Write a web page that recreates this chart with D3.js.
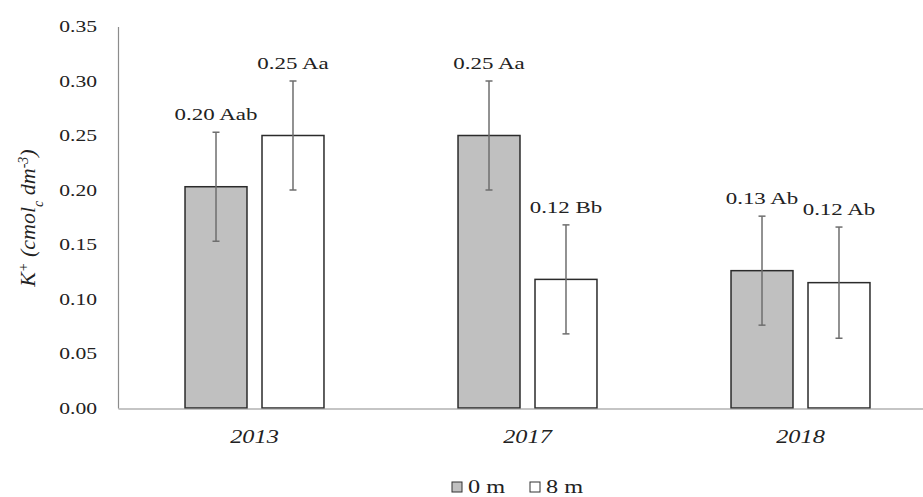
<!DOCTYPE html>
<html>
<head>
<meta charset="utf-8">
<script src="https://cdn.jsdelivr.net/npm/d3@7"></script>
<style>
  body { margin: 0; background: #fff; }
  svg text { font-family: "Liberation Serif", "DejaVu Serif", serif; fill: #222; }
</style>
</head>
<body>
<div id="chart"></div>
<script>
// data
const years = ["2013", "2017", "2018"];
const depths = ["0 m", "8 m"];
const values0m = [0.203, 0.250, 0.126];
const values8m = [0.250, 0.118, 0.115];
const err0m = [0.050, 0.050, 0.050];
const err8m = [0.050, 0.050, 0.051];
const labels0m = ["0.20 Aab", "0.25 Aa", "0.13 Ab"];
const labels8m = ["0.25 Aa", "0.12 Bb", "0.12 Ab"];
const yTicks = [0, 0.05, 0.10, 0.15, 0.20, 0.25, 0.30, 0.35];

const width = 923;
const height = 497;
const fills = { "0 m": "#c0c0c0", "8 m": "#ffffff" };
const stretch = 1.35; // text in the picture is wider than normal

const rows = [];
years.forEach((yr, i) => {
  rows.push({ year: yr, depth: "0 m", value: values0m[i], err: err0m[i], label: labels0m[i] });
  rows.push({ year: yr, depth: "8 m", value: values8m[i], err: err8m[i], label: labels8m[i] });
});

const svg = d3.select("#chart").append("svg")
  .attr("width", width)
  .attr("height", height);

// x scales: one band per year, two bars inside
const x0 = d3.scaleBand()
  .domain(years)
  .range([118, 937])
  .paddingInner(0.491)
  .paddingOuter(0.2455);

const x1 = d3.scaleBand()
  .domain(depths)
  .range([0, x0.bandwidth()])
  .paddingInner(0.195);

const y = d3.scaleLinear()
  .domain([0, 0.35])
  .range([408, 26.5]);

// y axis
const yAxis = svg.append("g")
  .attr("transform", "translate(118,0)")
  .call(d3.axisLeft(y).tickValues(yTicks).tickFormat(d3.format(".2f")).tickSize(0).tickPadding(0));
yAxis.select(".domain").attr("stroke", "#8c8c8c").attr("stroke-width", 1.2);
yAxis.selectAll("text")
  .attr("x", 0)
  .attr("transform", `translate(-21,0) scale(${stretch},1)`)
  .style("font-size", "16px")
  .attr("fill", "#222");

// bars
const groups = svg.append("g").selectAll("g")
  .data(years)
  .join("g")
  .attr("transform", d => `translate(${x0(d)},0)`);

groups.selectAll("rect")
  .data(yr => rows.filter(r => r.year === yr))
  .join("rect")
  .attr("x", d => x1(d.depth))
  .attr("y", d => y(d.value))
  .attr("width", x1.bandwidth())
  .attr("height", d => y(0) - y(d.value))
  .attr("fill", d => fills[d.depth])
  .attr("stroke", "#2b2b2b")
  .attr("stroke-width", 1.5);

// error bars
const cap = 3.5;
const errs = groups.selectAll("g.err")
  .data(yr => rows.filter(r => r.year === yr))
  .join("g")
  .attr("class", "err")
  .attr("stroke", "#6e6e6e")
  .attr("stroke-width", 1.5);

errs.append("line")
  .attr("x1", d => x1(d.depth) + x1.bandwidth() / 2)
  .attr("x2", d => x1(d.depth) + x1.bandwidth() / 2)
  .attr("y1", d => y(d.value + d.err))
  .attr("y2", d => y(d.value - d.err));
errs.append("line")
  .attr("x1", d => x1(d.depth) + x1.bandwidth() / 2 - cap)
  .attr("x2", d => x1(d.depth) + x1.bandwidth() / 2 + cap)
  .attr("y1", d => y(d.value + d.err))
  .attr("y2", d => y(d.value + d.err));
errs.append("line")
  .attr("x1", d => x1(d.depth) + x1.bandwidth() / 2 - cap)
  .attr("x2", d => x1(d.depth) + x1.bandwidth() / 2 + cap)
  .attr("y1", d => y(d.value - d.err))
  .attr("y2", d => y(d.value - d.err));

// value labels above error bars
groups.selectAll("text.lbl")
  .data(yr => rows.filter(r => r.year === yr))
  .join("text")
  .attr("class", "lbl")
  .attr("transform", d => `translate(${x1(d.depth) + x1.bandwidth() / 2},${y(d.value + d.err) - 12}) scale(${stretch},1)`)
  .attr("text-anchor", "middle")
  .style("font-size", "17px")
  .text(d => d.label);

// x axis
const xAxis = svg.append("g")
  .attr("transform", "translate(0,408.5)")
  .call(d3.axisBottom(x0).tickSize(0).tickPadding(0));
xAxis.select(".domain").attr("stroke", "#8c8c8c").attr("stroke-width", 1.2);
xAxis.selectAll("text")
  .attr("y", 0)
  .attr("dy", 0)
  .attr("transform", `translate(0,34) scale(${stretch},1)`)
  .style("font-size", "18px")
  .style("font-style", "italic")
  .attr("fill", "#222");

// y axis title
const title = svg.append("text")
  .attr("transform", "translate(35,218) rotate(-90)")
  .attr("text-anchor", "middle")
  .style("font-size", "22px")
  .style("font-style", "italic");
title.append("tspan").text("K");
title.append("tspan").attr("baseline-shift", "super").style("font-size", "14px").text("+");
title.append("tspan").text(" (cmol");
title.append("tspan").attr("baseline-shift", "sub").style("font-size", "14px").text("c");
title.append("tspan").text(" dm");
title.append("tspan").attr("baseline-shift", "super").style("font-size", "14px").text("-3");
title.append("tspan").text(")");

// legend
const legendX = d3.scalePoint().domain(depths).range([452, 530]);
const legend = svg.append("g").selectAll("g")
  .data(depths)
  .join("g")
  .attr("transform", d => `translate(${legendX(d)},482)`);
legend.append("rect")
  .attr("width", 10)
  .attr("height", 10)
  .attr("fill", d => fills[d])
  .attr("stroke", "#333")
  .attr("stroke-width", 1);
legend.append("text")
  .attr("transform", `translate(16,11) scale(${stretch},1)`)
  .style("font-size", "18px")
  .text(d => d);
</script>
</body>
</html>
